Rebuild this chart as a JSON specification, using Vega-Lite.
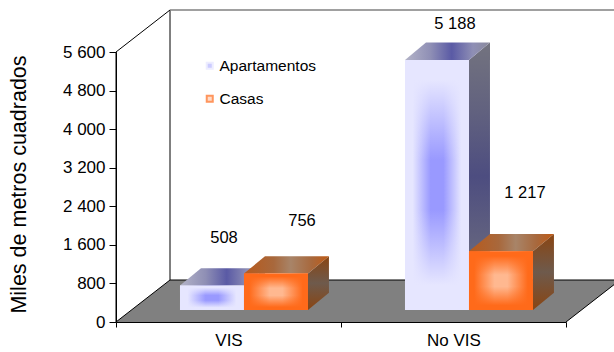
{
  "$schema": "https://vega.github.io/schema/vega-lite/v6.json",
  "width": 450,
  "height": 270,
  "padding": {"left": 116, "top": 52, "right": 48, "bottom": 30},
  "autosize": "none",
  "background": "white",
  "config": {"view": {"stroke": null}, "font": "Liberation Sans"},
  "datasets": {
    "datos": [
      {"cat": "VIS", "tipo": "Apartamentos", "valor": 508},
      {"cat": "VIS", "tipo": "Casas", "valor": 756},
      {"cat": "No VIS", "tipo": "Apartamentos", "valor": 5188},
      {"cat": "No VIS", "tipo": "Casas", "valor": 1217}
    ],
    "suelo": [
      {"eje": 0, "alto": 0, "alto2": 0},
      {"eje": 0.24, "alto": 0, "alto2": 871},
      {"eje": 2, "alto": 0, "alto2": 871},
      {"eje": 2.24, "alto": 871, "alto2": 871}
    ],
    "aristas": [
      {"arista": "frente", "eje": 0, "alto": 0},
      {"arista": "frente", "eje": 0, "alto": 5600},
      {"arista": "piso izq", "eje": 0, "alto": 0},
      {"arista": "piso izq", "eje": 0.24, "alto": 871},
      {"arista": "piso der", "eje": 2, "alto": 0},
      {"arista": "piso der", "eje": 2.24, "alto": 871},
      {"arista": "piso fondo", "eje": 0.24, "alto": 871},
      {"arista": "piso fondo", "eje": 2.24, "alto": 871},
      {"arista": "muro", "eje": 0.24, "alto": 871},
      {"arista": "muro", "eje": 0.24, "alto": 6471},
      {"arista": "techo izq", "eje": 0, "alto": 5600},
      {"arista": "techo izq", "eje": 0.24, "alto": 6471}
    ],
    "techo": [
      {"eje": 0.24, "alto": 6471},
      {"eje": 2.24, "alto": 6471}
    ]
  },
  "resolve": {"scale": {"x": "independent"}},
  "layer": [
    {
      "data": {"name": "datos"},
      "mark": {"type": "bar", "opacity": 0},
      "encoding": {
        "x": {
          "field": "cat",
          "type": "nominal",
          "sort": ["VIS", "No VIS"],
          "scale": {"paddingInner": 0, "paddingOuter": 0},
          "axis": {
            "title": null,
            "labelAngle": 0,
            "labelFontSize": 17,
            "labelColor": "#000000",
            "labelPadding": 5,
            "tickBand": "extent",
            "tickColor": "#000000",
            "tickSize": 5,
            "domainColor": "#000000",
            "grid": false
          }
        },
        "y": {
          "field": "valor",
          "type": "quantitative",
          "scale": {"domain": [0, 5600], "nice": false},
          "axis": {
            "title": "Miles de metros cuadrados",
            "titleFontSize": 21.5,
            "titleFontWeight": "normal",
            "titleColor": "#000000",
            "titleX": -86,
            "titleY": 132,
            "values": [0, 800, 1600, 2400, 3200, 4000, 4800, 5600],
            "tickCount": 8,
            "labelExpr": "replace(format(datum.value, ','), ',', ' ')",
            "labelFontSize": 17,
            "labelColor": "#000000",
            "labelPadding": 4,
            "labelOverlap": false,
            "tickColor": "#000000",
            "tickSize": 7,
            "domain": true,
            "domainColor": "#000000",
            "grid": false
          }
        }
      }
    },
    {
      "data": {"name": "suelo"},
      "mark": {"type": "area", "color": "#808080", "orient": "vertical"},
      "encoding": {
        "x": {"field": "eje", "type": "quantitative", "scale": {"domain": [0, 2], "nice": false, "zero": false}, "axis": null},
        "y": {"field": "alto", "type": "quantitative"},
        "y2": {"field": "alto2"}
      }
    },
    {
      "data": {"name": "aristas"},
      "mark": {"type": "line", "color": "#000000", "strokeWidth": 1},
      "encoding": {
        "x": {"field": "eje", "type": "quantitative", "scale": {"domain": [0, 2], "nice": false, "zero": false}, "axis": null},
        "y": {"field": "alto", "type": "quantitative"},
        "detail": {"field": "arista"}
      }
    },
    {
      "data": {"name": "techo"},
      "mark": {"type": "line", "color": "#808080", "strokeWidth": 1.5},
      "encoding": {
        "x": {"field": "eje", "type": "quantitative", "scale": {"domain": [0, 2], "nice": false, "zero": false}, "axis": null},
        "y": {"field": "alto", "type": "quantitative"}
      }
    },
    {
      "data": {"name": "datos"},
      "transform": [
        {"calculate": "(datum.cat === 'VIS' ? 0 : 1) + 0.2844 * (datum.tipo === 'Casas' ? 2 : 1)", "as": "x0"},
        {"calculate": "datum.x0 + 0.2844", "as": "x1"},
        {"calculate": "248", "as": "base"},
        {"calculate": "datum.base + datum.valor", "as": "cima"},
        {"calculate": "replace(format(datum.valor, ','), ',', ' ')", "as": "rotulo"},
        {"calculate": "(datum.x0 + datum.x1) / 2", "as": "centro"}
      ],
      "encoding": {
        "x": {"scale": {"domain": [0, 2], "nice": false, "zero": false}, "axis": null}
      },
      "layer": [
        {
          "transform": [
            {"filter": "datum.tipo === 'Apartamentos'"},
            {"calculate": "0", "as": "t0"},
            {"calculate": "1", "as": "t1"},
            {"fold": ["t0", "t1"], "as": ["k", "t"]},
            {"calculate": "datum.x1 + datum.t * 0.0933", "as": "sx"},
            {"calculate": "datum.cima + datum.t * 359", "as": "sy"},
            {"calculate": "datum.base + datum.t * 359", "as": "sy2"}
          ],
          "mark": {
            "type": "area",
            "orient": "vertical",
            "fill": {"gradient": "linear", "x1": 0, "y1": 0, "x2": 0, "y2": 1, "stops": [
              {"offset": 0, "color": "#73737f"},
              {"offset": 0.25, "color": "#62627f"},
              {"offset": 0.5, "color": "#4d4d80"},
              {"offset": 0.75, "color": "#62627f"},
              {"offset": 1, "color": "#73737f"}
            ]}
          },
          "encoding": {
            "x": {"field": "sx", "type": "quantitative"},
            "y": {"field": "sy", "type": "quantitative"},
            "y2": {"field": "sy2"},
            "detail": {"field": "cat"}
          }
        },
        {
          "transform": [
            {"filter": "datum.tipo === 'Apartamentos'"},
            {"calculate": "0", "as": "t0"},
            {"calculate": "1", "as": "t1"},
            {"calculate": "2", "as": "t2"},
            {"calculate": "3", "as": "t3"},
            {"fold": ["t0", "t1", "t2", "t3"], "as": ["k", "t"]},
            {"calculate": "datum.t < 2 ? datum.x0 + datum.t * 0.0933 : datum.x1 + (datum.t - 2) * 0.0933", "as": "sx"},
            {"calculate": "datum.t === 0 ? datum.cima : datum.cima + 359", "as": "sy"},
            {"calculate": "datum.t === 3 ? datum.cima + 359 : datum.cima", "as": "sy2"}
          ],
          "mark": {
            "type": "area",
            "orient": "vertical",
            "fill": {"gradient": "linear", "x1": 0, "y1": 0, "x2": 1, "y2": 0, "stops": [
              {"offset": 0, "color": "#b4b4c8"},
              {"offset": 0.3, "color": "#8f8fb5"},
              {"offset": 0.55, "color": "#5a5aa5"},
              {"offset": 0.8, "color": "#8f8fb5"},
              {"offset": 1, "color": "#8a8a9c"}
            ]}
          },
          "encoding": {
            "x": {"field": "sx", "type": "quantitative"},
            "y": {"field": "sy", "type": "quantitative"},
            "y2": {"field": "sy2"},
            "detail": {"field": "cat"}
          }
        },
        {
          "transform": [{"filter": "datum.tipo === 'Apartamentos'"}],
          "mark": {
            "type": "rect",
            "fill": {"gradient": "linear", "x1": 0, "y1": 0, "x2": 1, "y2": 0, "stops": [
              {"offset": 0, "color": "#e6e6ff"},
              {"offset": 0.12, "color": "#e6e6ff"},
              {"offset": 0.4, "color": "#9999ff"},
              {"offset": 0.6, "color": "#9999ff"},
              {"offset": 0.88, "color": "#e6e6ff"},
              {"offset": 1, "color": "#e6e6ff"}
            ]}
          },
          "encoding": {
            "x": {"field": "x0", "type": "quantitative"},
            "x2": {"field": "x1"},
            "y": {"field": "cima", "type": "quantitative"},
            "y2": {"field": "base"}
          }
        },
        {
          "transform": [{"filter": "datum.tipo === 'Apartamentos'"}],
          "mark": {
            "type": "rect",
            "fill": {"gradient": "linear", "x1": 0, "y1": 0, "x2": 0, "y2": 1, "stops": [
              {"offset": 0, "color": "rgba(230,230,255,1)"},
              {"offset": 0.08, "color": "rgba(230,230,255,1)"},
              {"offset": 0.4, "color": "rgba(230,230,255,0)"},
              {"offset": 0.6, "color": "rgba(230,230,255,0)"},
              {"offset": 0.9, "color": "rgba(230,230,255,1)"},
              {"offset": 1, "color": "rgba(230,230,255,1)"}
            ]}
          },
          "encoding": {
            "x": {"field": "x0", "type": "quantitative"},
            "x2": {"field": "x1"},
            "y": {"field": "cima", "type": "quantitative"},
            "y2": {"field": "base"}
          }
        },
        {
          "transform": [
            {"filter": "datum.tipo === 'Casas'"},
            {"calculate": "0", "as": "t0"},
            {"calculate": "1", "as": "t1"},
            {"calculate": "2", "as": "t2"},
            {"calculate": "3", "as": "t3"},
            {"fold": ["t0", "t1", "t2", "t3"], "as": ["k", "t"]},
            {"calculate": "datum.t < 2 ? datum.x0 + datum.t * 0.0933 : datum.x1 + (datum.t - 2) * 0.0933", "as": "sx"},
            {"calculate": "datum.t === 0 ? datum.cima : datum.cima + 359", "as": "sy"},
            {"calculate": "datum.t === 3 ? datum.cima + 359 : datum.cima", "as": "sy2"}
          ],
          "mark": {
            "type": "area",
            "orient": "vertical",
            "fill": {"gradient": "linear", "x1": 0, "y1": 0, "x2": 1, "y2": 0, "stops": [
              {"offset": 0, "color": "#b85a1c"},
              {"offset": 0.35, "color": "#a8683c"},
              {"offset": 0.55, "color": "#a88468"},
              {"offset": 0.8, "color": "#a8683c"},
              {"offset": 1, "color": "#c05a14"}
            ]}
          },
          "encoding": {
            "x": {"field": "sx", "type": "quantitative"},
            "y": {"field": "sy", "type": "quantitative"},
            "y2": {"field": "sy2"},
            "detail": {"field": "cat"}
          }
        },
        {
          "transform": [
            {"filter": "datum.tipo === 'Casas'"},
            {"calculate": "0", "as": "t0"},
            {"calculate": "1", "as": "t1"},
            {"fold": ["t0", "t1"], "as": ["k", "t"]},
            {"calculate": "datum.x1 + datum.t * 0.0933", "as": "sx"},
            {"calculate": "datum.cima + datum.t * 359", "as": "sy"},
            {"calculate": "datum.base + datum.t * 359", "as": "sy2"}
          ],
          "mark": {
            "type": "area",
            "orient": "vertical",
            "fill": {"gradient": "linear", "x1": 0, "y1": 0, "x2": 0, "y2": 1, "stops": [
              {"offset": 0, "color": "#8a4512"},
              {"offset": 0.5, "color": "#6e5a4c"},
              {"offset": 1, "color": "#8a4512"}
            ]}
          },
          "encoding": {
            "x": {"field": "sx", "type": "quantitative"},
            "y": {"field": "sy", "type": "quantitative"},
            "y2": {"field": "sy2"},
            "detail": {"field": "cat"}
          }
        },
        {
          "transform": [{"filter": "datum.tipo === 'Casas'"}],
          "mark": {
            "type": "rect",
            "fill": {"gradient": "linear", "x1": 0, "y1": 0, "x2": 1, "y2": 0, "stops": [
              {"offset": 0, "color": "#ff6a1a"},
              {"offset": 0.08, "color": "#ff6a1a"},
              {"offset": 0.4, "color": "#ffb890"},
              {"offset": 0.6, "color": "#ffb890"},
              {"offset": 0.92, "color": "#ff6a1a"},
              {"offset": 1, "color": "#ff6a1a"}
            ]}
          },
          "encoding": {
            "x": {"field": "x0", "type": "quantitative"},
            "x2": {"field": "x1"},
            "y": {"field": "cima", "type": "quantitative"},
            "y2": {"field": "base"}
          }
        },
        {
          "transform": [{"filter": "datum.tipo === 'Casas'"}],
          "mark": {
            "type": "rect",
            "fill": {"gradient": "linear", "x1": 0, "y1": 0, "x2": 0, "y2": 1, "stops": [
              {"offset": 0, "color": "rgba(255,106,26,1)"},
              {"offset": 0.08, "color": "rgba(255,106,26,1)"},
              {"offset": 0.4, "color": "rgba(255,106,26,0)"},
              {"offset": 0.6, "color": "rgba(255,106,26,0)"},
              {"offset": 0.92, "color": "rgba(255,106,26,1)"},
              {"offset": 1, "color": "rgba(255,106,26,1)"}
            ]}
          },
          "encoding": {
            "x": {"field": "x0", "type": "quantitative"},
            "x2": {"field": "x1"},
            "y": {"field": "cima", "type": "quantitative"},
            "y2": {"field": "base"}
          }
        },
        {
          "mark": {"type": "square", "size": 0},
          "encoding": {
            "x": {"field": "x0", "type": "quantitative"},
            "y": {"field": "base", "type": "quantitative"},
            "fill": {
              "field": "tipo",
              "type": "nominal",
              "scale": {"domain": ["Apartamentos", "Casas"], "range": ["#9999ff", "#ffb890"]},
              "legend": {
                "title": null,
                "orient": "none",
                "legendX": 86,
                "legendY": 6,
                "symbolType": "square",
                "symbolSize": 36,
                "symbolStrokeWidth": 2,
                "labelFontSize": 15.5,
                "labelColor": "#000000",
                "labelOffset": 2,
                "rowPadding": 16,
                "padding": 0,
                "symbolOpacity": 1
              }
            },
            "stroke": {
              "field": "tipo",
              "type": "nominal",
              "scale": {"domain": ["Apartamentos", "Casas"], "range": ["#e6e6ff", "#ff6a1a"]}
            }
          }
        },
        {
          "transform": [{"filter": "datum.valor === 508"}],
          "mark": {"type": "text", "fontSize": 16.5, "color": "#000000", "dx": 12, "dy": -48},
          "encoding": {
            "x": {"field": "centro", "type": "quantitative"},
            "y": {"field": "cima", "type": "quantitative"},
            "text": {"field": "rotulo"}
          }
        },
        {
          "transform": [{"filter": "datum.valor === 756"}],
          "mark": {"type": "text", "fontSize": 16.5, "color": "#000000", "dx": 26, "dy": -53},
          "encoding": {
            "x": {"field": "centro", "type": "quantitative"},
            "y": {"field": "cima", "type": "quantitative"},
            "text": {"field": "rotulo"}
          }
        },
        {
          "transform": [{"filter": "datum.valor === 5188"}],
          "mark": {"type": "text", "fontSize": 16.5, "color": "#000000", "dx": 18, "dy": -36},
          "encoding": {
            "x": {"field": "centro", "type": "quantitative"},
            "y": {"field": "cima", "type": "quantitative"},
            "text": {"field": "rotulo"}
          }
        },
        {
          "transform": [{"filter": "datum.valor === 1217"}],
          "mark": {"type": "text", "fontSize": 16.5, "color": "#000000", "dx": 24, "dy": -58},
          "encoding": {
            "x": {"field": "centro", "type": "quantitative"},
            "y": {"field": "cima", "type": "quantitative"},
            "text": {"field": "rotulo"}
          }
        }
      ]
    }
  ]
}
